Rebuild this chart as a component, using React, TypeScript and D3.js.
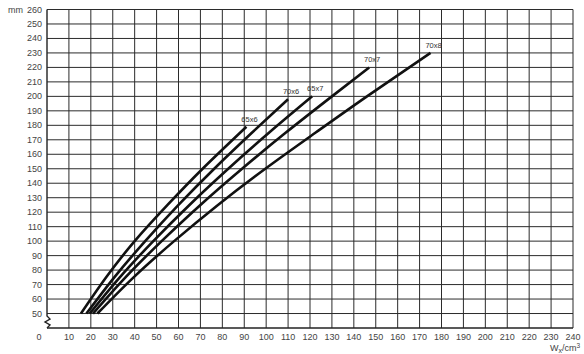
import React, { useEffect, useRef } from "react";
import * as d3 from "d3";

const heights65x6 = [50, 75, 100, 125, 150, 179];
const wx65x6 = [15.5, 27, 40, 55, 71, 91];

const heights70x6 = [50, 75, 100, 125, 150, 175, 198];
const wx70x6 = [18, 30.7, 44.8, 60, 76.3, 93.6, 110];

const heights65x7 = [50, 75, 100, 125, 150, 175, 200];
const wx65x7 = [19.5, 33.2, 48.5, 65, 82.7, 101.4, 121];

const heights70x7 = [50, 75, 100, 125, 150, 175, 200, 220];
const wx70x7 = [21, 35.8, 52.3, 70, 89, 109, 130, 147];

const heights70x8 = [50, 75, 100, 125, 150, 175, 200, 230];
const wx70x8 = [23, 39.5, 58, 78, 99.6, 122.6, 146, 175];

const profileNames = ["65x6", "70x6", "65x7", "70x7", "70x8"];
const xTicks = d3.range(10, 241, 10);
const yTicks = d3.range(50, 261, 10);

type Pt = { wx: number; h: number };

export default function App() {
  const ref = useRef<SVGSVGElement>(null);

  useEffect(() => {
    document.body.style.margin = "0";
    const width = 584;
    const height = 354;
    const svg = d3.select(ref.current);
    svg.selectAll("*").remove();

    const x = d3.scaleLinear().domain([0, 240]).range([47, 573]);
    const y = d3.scaleLinear().domain([40, 260]).range([328, 9.5]);

    const grid = svg.append("g").attr("stroke", "#2b2b2b").attr("stroke-width", 1);

    // vertical grid
    grid
      .selectAll("line.v")
      .data(xTicks)
      .enter()
      .append("line")
      .attr("x1", (d) => x(d))
      .attr("x2", (d) => x(d))
      .attr("y1", y(260))
      .attr("y2", y(40));

    // horizontal grid
    grid
      .selectAll("line.h")
      .data(yTicks)
      .enter()
      .append("line")
      .attr("x1", x(0))
      .attr("x2", x(240))
      .attr("y1", (d) => y(d))
      .attr("y2", (d) => y(d));

    // bottom + left border with axis break
    const x0 = x(0);
    const yb = y(40);
    svg
      .append("line")
      .attr("x1", x0)
      .attr("x2", x(240))
      .attr("y1", yb)
      .attr("y2", yb)
      .attr("stroke", "#222")
      .attr("stroke-width", 1.6);
    svg
      .append("path")
      .attr(
        "d",
        `M${x0},${y(260)} L${x0},${yb - 12} L${x0 + 3},${yb - 9} L${x0 - 2},${yb - 6} L${x0 + 3},${yb - 3} L${x0},${yb}`
      )
      .attr("fill", "none")
      .attr("stroke", "#222")
      .attr("stroke-width", 1.4);

    // curves
    const series: Pt[][] = [
      heights65x6.map((h, i) => ({ wx: wx65x6[i], h })),
      heights70x6.map((h, i) => ({ wx: wx70x6[i], h })),
      heights65x7.map((h, i) => ({ wx: wx65x7[i], h })),
      heights70x7.map((h, i) => ({ wx: wx70x7[i], h })),
      heights70x8.map((h, i) => ({ wx: wx70x8[i], h })),
    ];

    const line = d3
      .line<Pt>()
      .x((d) => x(d.wx))
      .y((d) => y(d.h))
      .curve(d3.curveNatural);

    svg
      .append("g")
      .selectAll("path")
      .data(series)
      .enter()
      .append("path")
      .attr("d", (d) => line(d))
      .attr("fill", "none")
      .attr("stroke", "#111")
      .attr("stroke-width", 2.6);

    // curve labels
    svg
      .append("g")
      .selectAll("text")
      .data(series)
      .enter()
      .append("text")
      .attr("x", (d) => x(d[d.length - 1].wx) + 3)
      .attr("y", (d) => y(d[d.length - 1].h) - 5)
      .attr("text-anchor", "middle")
      .style("font-family", "Liberation Sans, Arial, sans-serif")
      .style("font-size", "7.5px")
      .style("fill", "#333")
      .text((_, i) => profileNames[i]);

    const tickFont = (sel: any) =>
      sel
        .style("font-family", "Liberation Sans, Arial, sans-serif")
        .style("font-size", "9px")
        .style("fill", "#444");

    // y labels
    svg
      .append("g")
      .selectAll("text")
      .data(yTicks)
      .enter()
      .append("text")
      .attr("x", 42)
      .attr("y", (d) => y(d) + 3)
      .attr("text-anchor", "end")
      .text((d) => d)
      .call(tickFont);

    svg.append("text").attr("x", 8).attr("y", y(260) + 3).text("mm").call(tickFont);

    // x labels
    svg
      .append("g")
      .selectAll("text")
      .data(xTicks)
      .enter()
      .append("text")
      .attr("x", (d) => x(d))
      .attr("y", 340)
      .attr("text-anchor", "middle")
      .text((d) => d)
      .call(tickFont);

    svg.append("text").attr("x", 39).attr("y", 340).attr("text-anchor", "middle").text("0").call(tickFont);

    const unit = svg
      .append("text")
      .attr("x", 580)
      .attr("y", 351)
      .attr("text-anchor", "end")
      .call(tickFont);
    unit.append("tspan").text("W");
    unit.append("tspan").attr("dy", 2).style("font-size", "7px").text("x");
    unit.append("tspan").attr("dy", -2).text("/cm");
    unit.append("tspan").attr("dy", -3).style("font-size", "6.5px").text("3");

    svg.attr("width", width).attr("height", height);
  }, []);

  return (
    <svg
      ref={ref}
      width={584}
      height={354}
      style={{ position: "absolute", left: 0, top: 0, background: "#fff" }}
    />
  );
}
